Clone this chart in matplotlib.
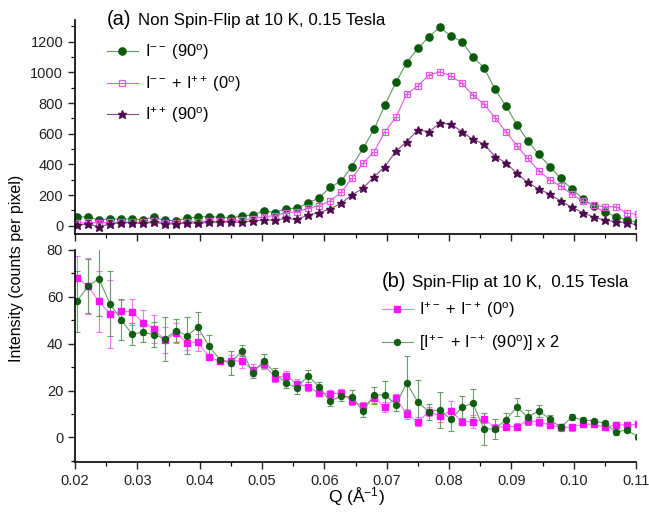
import matplotlib
matplotlib.use("Agg")
import matplotlib.pyplot as plt
from matplotlib.ticker import MultipleLocator, FormatStrFormatter

plt.rcParams['font.family'] = ['Liberation Sans', 'DejaVu Sans']
plt.rcParams['mathtext.fontset'] = 'custom'
plt.rcParams['mathtext.rm'] = 'Liberation Sans'
plt.rcParams['mathtext.it'] = 'Liberation Sans:italic'
plt.rcParams['mathtext.bf'] = 'Liberation Sans:bold'

# Q grid (1/A), same for both panels
q = [0.0203, 0.0221, 0.0238, 0.0256, 0.0274, 0.0291, 0.0309, 0.0327, 0.0344, 0.0362,
     0.0380, 0.0397, 0.0415, 0.0433, 0.0450, 0.0468, 0.0485, 0.0503, 0.0521, 0.0538,
     0.0556, 0.0574, 0.0591, 0.0609, 0.0627, 0.0644, 0.0662, 0.0680, 0.0697, 0.0715,
     0.0732, 0.0750, 0.0768, 0.0785, 0.0803, 0.0821, 0.0838, 0.0856, 0.0874, 0.0891,
     0.0909, 0.0926, 0.0944, 0.0962, 0.0979, 0.0997, 0.1015, 0.1032, 0.1050, 0.1068,
     0.1085, 0.1103]

# (a) non spin-flip
i_mm_90 = [55, 60, 37, 46, 41, 44, 40, 55, 35, 33, 50, 57, 60, 55, 52, 63, 70, 98, 86, 112,
           113, 150, 179, 250, 291, 385, 504, 630, 787, 935, 1063, 1157, 1232, 1293,
           1237, 1200, 1102, 1030, 889, 782, 659, 554, 465, 385, 309, 239, 174, 128, 89, 59, 37, 22]
i_sum_0 = [15, 22, 18, 22, 24, 25, 22, 28, 20, 18, 25, 27, 30, 28, 32, 38, 45, 58, 66, 85,
           91, 113, 130, 161, 218, 309, 407, 483, 613, 707, 859, 911, 983, 1004,
           976, 928, 852, 793, 704, 613, 522, 439, 359, 298, 259, 205, 161, 133, 124, 124, 81, 74]
i_pp_90 = [5, 11, -6, 11, 20, 18, 15, 22, 13, 11, 20, 15, 22, 26, 22, 24, 30, 38, 35, 48,
           41, 70, 85, 109, 146, 200, 244, 320, 385, 487, 548, 624, 613, 667,
           663, 613, 563, 533, 450, 411, 342, 283, 239, 205, 161, 120, 85, 55, 37, 26, 20, 5]

# (b) spin-flip
sf_0 = [68.1, 64.5, 58.1, 52.8, 53.8, 53.6, 49.0, 46.3, 41.5, 44.5, 40.4, 40.6, 34.3, 32.5,
        32.8, 32.4, 28.8, 31.3, 25.5, 26.4, 22.8, 21.7, 19.1, 18.6, 18.9, 15.6, 13.4, 16.7,
        12.9, 16.7, 10.0, 6.7, 11.0, 9.2, 11.3, 6.7, 6.7, 7.7, 4.2, 4.6, 4.6, 7.2, 6.5, 5.3,
        4.3, 4.3, 5.6, 5.6, 4.3, 5.3, 5.3, 5.6]
sf_0_err = [9.3, 12.0, 13.0, 14.5, 5.0, 5.6, 5.2, 5.9, 5.4, 4.4, 3.0, 3.7, 1.2, 1.1,
            2.5, 2.9, 2.5, 2.0, 2.0, 2.0, 2.0, 2.0, 1.6, 1.8, 1.8, 1.8, 1.8, 2.0,
            2.0, 2.0, 2.0, 2.0, 2.0, 2.7, 4.4, 1.6, 2.9, 1.6, 1.5, 1.5, 1.5, 1.5, 1.5, 1.5,
            1.5, 1.5, 1.2, 1.2, 1.2, 1.2, 1.2, 1.2]
sf_90x2 = [58.1, 64.5, 67.8, 57.1, 50.3, 44.2, 44.8, 43.9, 42.0, 45.6, 43.4, 47.1, 38.8, 33.1,
           31.7, 37.0, 27.5, 32.7, 27.4, 23.2, 21.2, 26.3, 21.7, 15.5, 17.5, 17.2, 11.3, 18.0,
           18.2, 14.0, 23.2, 15.0, 11.0, 11.7, 7.7, 12.9, 14.6, 3.6, 3.6, 7.5, 12.9, 8.6, 11.4,
           7.7, 4.3, 8.6, 7.5, 7.0, 6.0, 2.2, 3.2, 0.3]
sf_90x2_err = [13.0, 11.6, 16.0, 13.9, 8.9, 4.7, 4.3, 5.4, 9.5, 5.1, 8.0, 6.6, 5.0, 1.3,
               5.1, 2.4, 2.0, 3.0, 2.4, 2.3, 2.6, 2.5, 2.0, 2.3, 1.8, 3.0, 2.5, 3.6,
               6.0, 2.9, 11.4, 9.5, 3.4, 7.6, 5.0, 4.6, 5.9, 6.8, 4.3, 2.9, 3.8, 3.2, 2.5,
               1.8, 1.5, 1.2, 1.0, 1.0, 1.0, 1.0, 1.0, 1.0]

GREEN = '#0b5a0b'
GREEN_LN = '#5f9a5f'
PINK = '#e858e8'
PURPLE = '#4e0a4e'
PURPLE_LN = '#8a4a8a'
MAG = '#ff10ff'
MAG_LN = '#ff70ff'

fig = plt.figure(figsize=(6.49, 5.16), dpi=100)
ax1 = fig.add_axes([0.1156, 0.5465, 0.8644, 0.4147])
ax2 = fig.add_axes([0.1156, 0.1047, 0.8644, 0.4109])

# ---- top panel
ax1.plot(q, i_mm_90, '-', color=GREEN_LN, lw=0.8, marker='o', ms=5.2,
         mfc=GREEN, mec=GREEN, label='I$^{--}$ (90$^{\\rm o}$)')
ax1.plot(q, i_sum_0, '-', color=PINK, lw=0.8, marker='s', ms=4.6, mfc='none',
         mec=PINK, mew=0.9, label='I$^{--}$ + I$^{++}$ (0$^{\\rm o}$)')
ax1.plot(q, i_sum_0, ' ', marker='+', ms=4.6, mec=PINK, mew=0.7)
ax1.plot(q, i_pp_90, '-', color=PURPLE_LN, lw=0.8, marker='*', ms=6.3,
         mfc=PURPLE, mec=PURPLE, label='I$^{++}$ (90$^{\\rm o}$)')

ax1.set_xlim(0.02, 0.11)
ax1.set_ylim(-54, 1341)
ax1.yaxis.set_major_locator(MultipleLocator(200))
ax1.yaxis.set_minor_locator(MultipleLocator(100))
ax1.tick_params(axis='x', labelbottom=False)

ax1.text(0.057, 0.977, '(a)', transform=ax1.transAxes, fontsize=14.5, va='baseline')
ax1.text(0.112, 0.977, 'Non Spin-Flip at 10 K, 0.15 Tesla', transform=ax1.transAxes,
         fontsize=12.2, va='baseline')
ax1.legend(loc='upper left', bbox_to_anchor=(0.045, 0.925), frameon=False, fontsize=11.8,
           handlelength=1.9, handletextpad=0.4, labelspacing=0.72, borderaxespad=0)

# ---- bottom panel
eb0 = ax2.errorbar(q, sf_0, yerr=sf_0_err, fmt='-', color=MAG_LN, lw=0.8, elinewidth=0.8,
                   capsize=2.5, capthick=0.8, marker='s', ms=4.3, mfc=MAG, mec=MAG)
eb90 = ax2.errorbar(q, sf_90x2, yerr=sf_90x2_err, fmt='-', color=GREEN_LN, lw=0.8,
                    elinewidth=0.8, capsize=2.5, capthick=0.8, marker='o', ms=4.3,
                    mfc=GREEN, mec=GREEN, alpha=0.95)

ax2.set_xlim(0.02, 0.11)
ax2.set_ylim(-10.5, 80)
ax2.xaxis.set_major_locator(MultipleLocator(0.01))
ax2.xaxis.set_minor_locator(MultipleLocator(0.005))
ax2.xaxis.set_major_formatter(FormatStrFormatter('%.2f'))
ax2.yaxis.set_major_locator(MultipleLocator(20))
ax2.yaxis.set_minor_locator(MultipleLocator(10))

ax2.text(0.546, 0.823, '(b)', transform=ax2.transAxes, fontsize=14.5, va='baseline')
ax2.text(0.601, 0.823, 'Spin-Flip at 10 K,  0.15 Tesla', transform=ax2.transAxes,
         fontsize=12.2, va='baseline')
ax2.legend([eb0[0], eb90[0]],
           ['I$^{+-}$ + I$^{-+}$ (0$^{\\rm o}$)',
            '[I$^{+-}$ + I$^{-+}$ (90$^{\\rm o}$)] x 2'],
           loc='upper left', bbox_to_anchor=(0.535, 0.795), frameon=False, fontsize=11.8,
           handlelength=1.9, handletextpad=0.4, labelspacing=0.85, borderaxespad=0)

ax1.set_xticks(ax2.get_xticks())
ax1.xaxis.set_minor_locator(MultipleLocator(0.005))
ax1.set_xlim(0.02, 0.11)

for ax in (ax1, ax2):
    ax.spines['top'].set_visible(False)
    ax.spines['right'].set_visible(False)
    ax.spines['left'].set_linewidth(1.2)
    ax.spines['bottom'].set_linewidth(1.2)
    ax.tick_params(which='major', direction='out', length=5, width=1.0, labelsize=10.5,
                   colors='#222222')
    ax.tick_params(which='minor', direction='out', length=3, width=0.9)
    ax.patch.set_alpha(0)

fig.text(0.025, 0.48, 'Intensity (counts per pixel)', rotation=90, ha='center',
         va='center', fontsize=11.5)
fig.text(0.55, 0.037, 'Q (Å$^{-1}$)', ha='center', va='center', fontsize=12.5)

fig.savefig('out.png', dpi=100)
